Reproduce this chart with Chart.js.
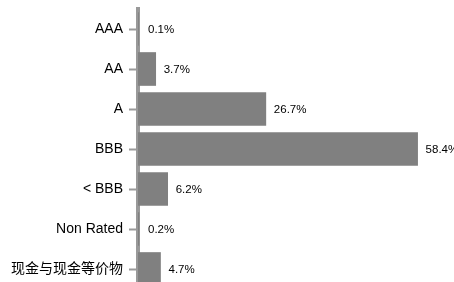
<!DOCTYPE html>
<html>
<head>
<meta charset="utf-8">
<script src="https://cdn.jsdelivr.net/npm/chart.js@4"></script>
<style>
  html, body { margin: 0; padding: 0; background: #fff; overflow: hidden; }
</style>
</head>
<body>
<canvas id="myChart" width="454" height="300"></canvas>
<script>
var ratings = ['AAA', 'AA', 'A', 'BBB', '< BBB', 'Non Rated', '现金与现金等价物'];
var weights = [0.1, 3.7, 26.7, 58.4, 6.2, 0.2, 4.7];

// labels at the end of each bar
var barLabels = {
  id: 'barLabels',
  afterDraw: function (chart) {
    var ctx = chart.ctx;
    var meta = chart.getDatasetMeta(0);
    ctx.save();
    ctx.font = '11.5px "Liberation Sans", Arial, sans-serif';
    ctx.fillStyle = '#000';
    ctx.textAlign = 'left';
    ctx.textBaseline = 'middle';
    meta.data.forEach(function (bar, i) {
      ctx.fillText(weights[i].toFixed(1) + '%', Math.max(bar.x, 140) + 8, bar.y + 1);
    });
    ctx.restore();
  }
};

var ctx = document.getElementById('myChart').getContext('2d');
var myChart = new Chart(ctx, {
  type: 'bar',
  data: {
    labels: ratings,
    datasets: [{
      data: weights,
      backgroundColor: '#808080',
      borderWidth: 0,
      barThickness: 33
    }]
  },
  options: {
    indexAxis: 'y',
    responsive: false,
    animation: false,
    devicePixelRatio: 1,
    layout: { padding: { top: 9, bottom: 11, left: 0, right: 0 } },
    plugins: {
      legend: { display: false },
      tooltip: { enabled: false }
    },
    scales: {
      x: {
        display: false,
        min: 0,
        max: 66
      },
      y: {
        z: 1,
        afterFit: function (scale) {
          scale.width = 138;
          scale.paddingTop = 0;
          scale.paddingBottom = 0;
        },
        grid: {
          offset: false,
          drawOnChartArea: false,
          drawTicks: true,
          tickLength: 9,
          tickWidth: 2,
          tickColor: '#999'
        },
        border: { display: true, color: '#999', width: 4 },
        ticks: {
          padding: 6,
          color: '#000',
          font: { family: '"Liberation Sans", Arial, "Noto Sans CJK SC", sans-serif', size: 14 }
        }
      }
    }
  },
  plugins: [barLabels]
});
</script>
</body>
</html>
